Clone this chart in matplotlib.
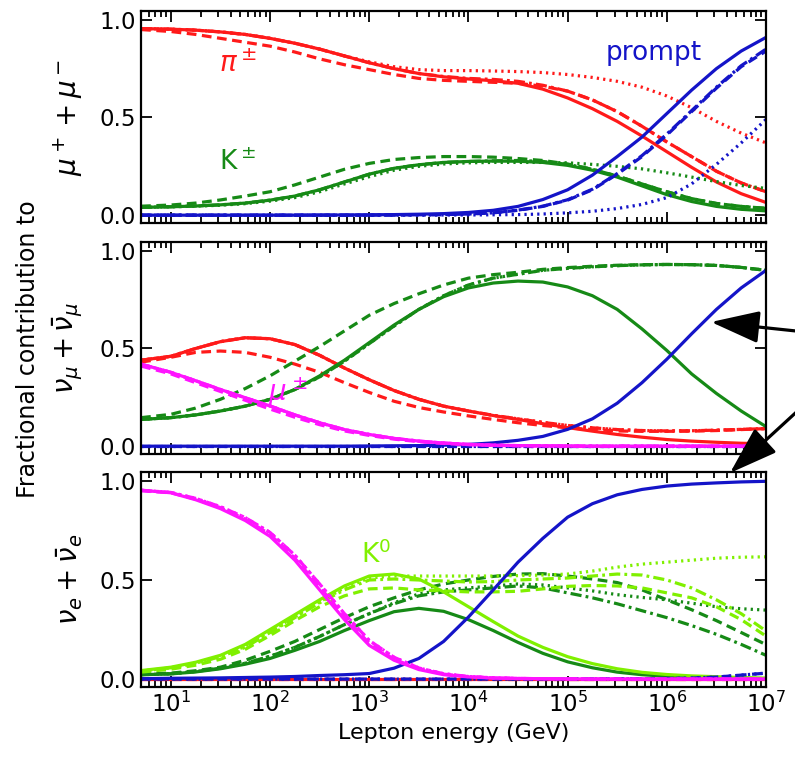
import numpy as np
import matplotlib
matplotlib.use('Agg')
import matplotlib.pyplot as plt
from matplotlib.ticker import LogLocator, NullFormatter, FixedLocator
from matplotlib.patches import FancyArrowPatch

# log10 of lepton energy in GeV
log_e = [0.7, 1.0, 1.25, 1.5, 1.75, 2.0, 2.25, 2.5, 2.75, 3.0, 3.25, 3.5, 3.75,
         4.0, 4.25, 4.5, 4.75, 5.0, 5.25, 5.5, 5.75, 6.0, 6.25, 6.5, 6.75, 7.0]
zeros = [0.0] * 26
xticks = [1e1, 1e2, 1e3, 1e4, 1e5, 1e6, 1e7]

# ---- mu+ + mu- ----
pi_mu_a = [0.955, 0.952, 0.947, 0.938, 0.925, 0.905, 0.88, 0.85, 0.815, 0.78, 0.75, 0.725, 0.708,
           0.697, 0.688, 0.675, 0.645, 0.60, 0.545, 0.48, 0.405, 0.325, 0.245, 0.17, 0.11, 0.065]
pi_mu_b = [0.95, 0.94, 0.925, 0.905, 0.885, 0.865, 0.835, 0.80, 0.77, 0.745, 0.72, 0.70, 0.69,
           0.685, 0.68, 0.675, 0.66, 0.635, 0.59, 0.53, 0.455, 0.375, 0.30, 0.225, 0.165, 0.12]
pi_mu_c = [0.955, 0.952, 0.947, 0.938, 0.925, 0.905, 0.88, 0.85, 0.815, 0.785, 0.76, 0.745, 0.74,
           0.74, 0.738, 0.735, 0.73, 0.72, 0.705, 0.685, 0.655, 0.61, 0.55, 0.48, 0.42, 0.37]
pi_mu_d = [0.955, 0.952, 0.947, 0.938, 0.925, 0.905, 0.88, 0.85, 0.815, 0.78, 0.75, 0.725, 0.71,
           0.70, 0.695, 0.685, 0.665, 0.635, 0.59, 0.53, 0.455, 0.375, 0.30, 0.225, 0.165, 0.12]

k_mu_a = [0.04, 0.043, 0.047, 0.053, 0.062, 0.077, 0.098, 0.13, 0.17, 0.21, 0.24, 0.258, 0.27,
          0.275, 0.277, 0.276, 0.27, 0.255, 0.23, 0.195, 0.15, 0.105, 0.07, 0.045, 0.03, 0.022]
k_mu_b = [0.046, 0.052, 0.062, 0.078, 0.098, 0.12, 0.155, 0.195, 0.235, 0.265, 0.285, 0.295, 0.30,
          0.30, 0.297, 0.29, 0.28, 0.262, 0.235, 0.2, 0.16, 0.12, 0.085, 0.06, 0.045, 0.035]
k_mu_c = [0.04, 0.043, 0.046, 0.051, 0.059, 0.072, 0.09, 0.12, 0.16, 0.197, 0.23, 0.25, 0.262,
          0.268, 0.27, 0.27, 0.27, 0.268, 0.26, 0.25, 0.237, 0.217, 0.195, 0.172, 0.152, 0.137]
k_mu_d = [0.04, 0.043, 0.047, 0.053, 0.062, 0.077, 0.098, 0.13, 0.17, 0.21, 0.24, 0.258, 0.27,
          0.275, 0.278, 0.28, 0.275, 0.26, 0.235, 0.2, 0.16, 0.12, 0.085, 0.06, 0.045, 0.035]

pr_mu_a = [0.0, 0.0, 0.0, 0.0, 0.0, 0.0, 0.0, 0.001, 0.001, 0.002, 0.003, 0.005, 0.008,
           0.014, 0.025, 0.045, 0.08, 0.13, 0.205, 0.30, 0.40, 0.52, 0.64, 0.75, 0.84, 0.91]
pr_mu_b = [0.0, 0.0, 0.0, 0.0, 0.0, 0.0, 0.0, 0.0, 0.0, 0.0, 0.001, 0.002, 0.003,
           0.006, 0.012, 0.025, 0.045, 0.077, 0.13, 0.21, 0.30, 0.41, 0.53, 0.65, 0.76, 0.84]
pr_mu_c = [0.0, 0.0, 0.0, 0.0, 0.0, 0.0, 0.0, 0.0, 0.0, 0.0, 0.0, 0.0, 0.001,
           0.001, 0.002, 0.003, 0.006, 0.012, 0.02, 0.034, 0.055, 0.09, 0.16, 0.26, 0.37, 0.49]
pr_mu_d = [0.0, 0.0, 0.0, 0.0, 0.0, 0.0, 0.0, 0.0, 0.0, 0.0, 0.001, 0.002, 0.003,
           0.006, 0.012, 0.026, 0.046, 0.079, 0.133, 0.213, 0.305, 0.415, 0.535, 0.655, 0.765, 0.85]

# ---- nu_mu + anti nu_mu ----
pi_numu_a = [0.44, 0.46, 0.50, 0.535, 0.555, 0.55, 0.52, 0.465, 0.40, 0.34, 0.285, 0.24, 0.205,
             0.18, 0.157, 0.137, 0.115, 0.095, 0.077, 0.06, 0.046, 0.034, 0.026, 0.02, 0.015, 0.012]
pi_numu_b = [0.43, 0.455, 0.48, 0.487, 0.48, 0.455, 0.42, 0.378, 0.325, 0.275, 0.23, 0.198, 0.175,
             0.155, 0.137, 0.12, 0.106, 0.094, 0.085, 0.078, 0.076, 0.076, 0.077, 0.08, 0.085, 0.09]
pi_numu_c = [0.44, 0.46, 0.50, 0.535, 0.555, 0.55, 0.52, 0.465, 0.40, 0.34, 0.285, 0.24, 0.205,
             0.18, 0.158, 0.14, 0.122, 0.106, 0.094, 0.085, 0.08, 0.078, 0.079, 0.082, 0.086, 0.09]

k_numu_a = [0.137, 0.146, 0.16, 0.18, 0.205, 0.24, 0.29, 0.36, 0.44, 0.53, 0.62, 0.70, 0.765,
            0.81, 0.835, 0.845, 0.84, 0.815, 0.77, 0.70, 0.60, 0.49, 0.37, 0.27, 0.18, 0.10]
k_numu_b = [0.146, 0.163, 0.195, 0.24, 0.295, 0.36, 0.435, 0.51, 0.59, 0.67, 0.73, 0.78, 0.825,
            0.86, 0.878, 0.89, 0.905, 0.914, 0.921, 0.926, 0.929, 0.93, 0.929, 0.925, 0.915, 0.90]
k_numu_c = [0.137, 0.146, 0.16, 0.18, 0.205, 0.24, 0.29, 0.355, 0.435, 0.525, 0.615, 0.70, 0.77,
            0.825, 0.86, 0.88, 0.90, 0.91, 0.918, 0.924, 0.928, 0.93, 0.929, 0.925, 0.915, 0.90]

mu_numu_a = [0.42, 0.378, 0.335, 0.29, 0.248, 0.206, 0.16, 0.12, 0.085, 0.06, 0.04, 0.026, 0.016,
             0.009, 0.005, 0.003, 0.002, 0.001, 0.0, 0.0, 0.0, 0.0, 0.0, 0.0, 0.0, 0.0]
mu_numu_b = [0.41, 0.37, 0.325, 0.28, 0.235, 0.19, 0.148, 0.11, 0.078, 0.055, 0.036, 0.023, 0.014,
             0.008, 0.004, 0.002, 0.001, 0.0, 0.0, 0.0, 0.0, 0.0, 0.0, 0.0, 0.0, 0.0]

pr_numu_a = [0.0, 0.0, 0.0, 0.0, 0.0, 0.0, 0.0, 0.0, 0.0, 0.001, 0.002, 0.003, 0.005,
             0.009, 0.017, 0.03, 0.05, 0.086, 0.14, 0.22, 0.325, 0.445, 0.575, 0.70, 0.81, 0.90]

# ---- nu_e + anti nu_e ----
mu_nue_a = [0.953, 0.94, 0.905, 0.86, 0.80, 0.72, 0.60, 0.45, 0.30, 0.17, 0.095, 0.048, 0.022,
            0.011, 0.005, 0.003, 0.002, 0.001, 0.0, 0.0, 0.0, 0.0, 0.0, 0.0, 0.0, 0.0]
mu_nue_b = [0.95, 0.94, 0.908, 0.865, 0.807, 0.73, 0.61, 0.465, 0.315, 0.18, 0.10, 0.052, 0.025,
            0.012, 0.006, 0.003, 0.002, 0.001, 0.0, 0.0, 0.0, 0.0, 0.0, 0.0, 0.0, 0.0]
mu_nue_c = [0.953, 0.942, 0.912, 0.87, 0.815, 0.74, 0.625, 0.48, 0.33, 0.195, 0.11, 0.056, 0.027,
            0.013, 0.006, 0.003, 0.002, 0.001, 0.0, 0.0, 0.0, 0.0, 0.0, 0.0, 0.0, 0.0]

k0_nue_a = [0.043, 0.06, 0.085, 0.12, 0.175, 0.25, 0.325, 0.40, 0.47, 0.52, 0.53, 0.505, 0.44,
            0.365, 0.29, 0.217, 0.16, 0.113, 0.078, 0.052, 0.034, 0.023, 0.016, 0.012, 0.008, 0.005]
k0_nue_b = [0.035, 0.05, 0.07, 0.10, 0.15, 0.22, 0.295, 0.365, 0.42, 0.455, 0.46, 0.45, 0.445,
            0.44, 0.44, 0.443, 0.455, 0.468, 0.472, 0.47, 0.46, 0.435, 0.41, 0.365, 0.30, 0.217]
k0_nue_c = [0.04, 0.057, 0.08, 0.115, 0.165, 0.24, 0.315, 0.39, 0.46, 0.51, 0.52, 0.52, 0.52,
            0.52, 0.52, 0.522, 0.525, 0.53, 0.545, 0.565, 0.58, 0.59, 0.60, 0.61, 0.615, 0.617]
k0_nue_d = [0.04, 0.057, 0.08, 0.113, 0.16, 0.235, 0.31, 0.385, 0.45, 0.50, 0.505, 0.50, 0.495,
            0.49, 0.492, 0.50, 0.505, 0.51, 0.52, 0.53, 0.525, 0.50, 0.46, 0.40, 0.33, 0.243]

k_nue_a = [0.022, 0.026, 0.036, 0.052, 0.075, 0.104, 0.145, 0.19, 0.245, 0.295, 0.34, 0.357, 0.342,
           0.30, 0.245, 0.185, 0.13, 0.087, 0.057, 0.035, 0.022, 0.014, 0.009, 0.005, 0.003, 0.002]
k_nue_b = [0.025, 0.03, 0.042, 0.06, 0.095, 0.14, 0.19, 0.25, 0.31, 0.365, 0.41, 0.45, 0.48,
           0.50, 0.518, 0.53, 0.532, 0.52, 0.505, 0.487, 0.45, 0.40, 0.35, 0.295, 0.235, 0.174]
k_nue_c = [0.022, 0.027, 0.038, 0.055, 0.08, 0.115, 0.16, 0.215, 0.275, 0.33, 0.385, 0.43, 0.45,
           0.46, 0.47, 0.48, 0.475, 0.46, 0.445, 0.426, 0.412, 0.40, 0.383, 0.365, 0.355, 0.348]
k_nue_d = [0.022, 0.027, 0.038, 0.055, 0.08, 0.115, 0.16, 0.215, 0.275, 0.33, 0.38, 0.42, 0.44,
           0.45, 0.46, 0.47, 0.46, 0.435, 0.41, 0.38, 0.345, 0.31, 0.27, 0.226, 0.175, 0.12]

pr_nue_a = [0.002, 0.004, 0.005, 0.006, 0.008, 0.01, 0.013, 0.018, 0.022, 0.028, 0.055, 0.104, 0.19,
            0.313, 0.45, 0.59, 0.71, 0.817, 0.885, 0.93, 0.957, 0.974, 0.984, 0.99, 0.995, 0.998]
pr_nue_b = [0.0, 0.0, 0.0, 0.0, 0.0, 0.0, 0.0, 0.0, 0.0, 0.0, 0.0, 0.0, 0.0,
            0.0, 0.0, 0.0, 0.0, 0.0, 0.001, 0.001, 0.002, 0.003, 0.005, 0.01, 0.02, 0.03]

RED, GREEN, BLUE, MAG, LGREEN = '#ff1a1a', '#168a16', '#1414c8', '#ff14ff', '#80f000'
STY = {'a': '-', 'b': (0, (7, 4)), 'c': (0, (1.6, 3.0)), 'd': (0, (8, 3, 2, 3))}

plt.rcParams['lines.scale_dashes'] = False
plt.rcParams['mathtext.fontset'] = 'dejavusans'

energy = 10 ** np.array(log_e)

fig = plt.figure(figsize=(7.95, 7.74), dpi=100)
L, R = 141 / 795, 766 / 795
boxes = [(11, 223), (242, 454), (472, 687)]
axes = []
for top, bot in boxes:
    axes.append(fig.add_axes([L, 1 - bot / 774, R - L, (bot - top) / 774]))

panels = [
    [(pi_mu_a, RED, 'a'), (pi_mu_b, RED, 'b'), (pi_mu_c, RED, 'c'), (pi_mu_d, RED, 'd'),
     (k_mu_a, GREEN, 'a'), (k_mu_b, GREEN, 'b'), (k_mu_c, GREEN, 'c'), (k_mu_d, GREEN, 'd'),
     (pr_mu_a, BLUE, 'a'), (pr_mu_b, BLUE, 'b'), (pr_mu_c, BLUE, 'c'), (pr_mu_d, BLUE, 'd')],
    [(pi_numu_a, RED, 'a'), (pi_numu_b, RED, 'b'), (pi_numu_c, RED, 'c'), (pi_numu_c, RED, 'd'),
     (k_numu_a, GREEN, 'a'), (k_numu_b, GREEN, 'b'), (k_numu_c, GREEN, 'c'), (k_numu_c, GREEN, 'd'),
     (zeros, BLUE, 'b'), (zeros, BLUE, 'c'), (pr_numu_a, BLUE, 'a'),
     (mu_numu_a, MAG, 'a'), (mu_numu_b, MAG, 'b'), (mu_numu_a, MAG, 'c'), (mu_numu_a, MAG, 'd')],
    [(zeros, RED, 'a'), (zeros, RED, 'b'),
     (k_nue_a, GREEN, 'a'), (k_nue_b, GREEN, 'b'), (k_nue_c, GREEN, 'c'), (k_nue_d, GREEN, 'd'),
     (k0_nue_a, LGREEN, 'a'), (k0_nue_b, LGREEN, 'b'), (k0_nue_c, LGREEN, 'c'), (k0_nue_d, LGREEN, 'd'),
     (pr_nue_b, BLUE, 'b'), (pr_nue_b, BLUE, 'c'), (pr_nue_a, BLUE, 'a'),
     (mu_nue_a, MAG, 'a'), (mu_nue_b, MAG, 'b'), (mu_nue_c, MAG, 'c'), (mu_nue_c, MAG, 'd')],
]
ylabels = [r'$\mu^+ + \mu^-$', r'$\nu_\mu + \bar{\nu}_\mu$', r'$\nu_e + \bar{\nu}_e$']

for ax, curves, yl in zip(axes, panels, ylabels):
    for vals, col, s in curves:
        ax.plot(energy, vals, color=col, ls=STY[s], lw=2.3)
    ax.set_xscale('log')
    ax.set_xlim(5, 1e7)
    ax.set_ylim(-0.04, 1.045)
    ax.set_yticks([0.0, 0.5, 1.0])
    ax.xaxis.set_major_locator(FixedLocator(xticks))
    ax.xaxis.set_minor_locator(LogLocator(base=10, subs=np.arange(2, 10), numticks=20))
    ax.xaxis.set_minor_formatter(NullFormatter())
    ax.tick_params(which='both', direction='in', top=True, right=True, labelsize=16.5, width=1.3)
    ax.tick_params(which='major', length=8)
    ax.tick_params(which='minor', length=4)
    for sp in ax.spines.values():
        sp.set_linewidth(1.6)
    ax.set_ylabel(yl, fontsize=20)
    ax.yaxis.set_label_coords(-0.09, 0.5)

axes[0].tick_params(labelbottom=False)
axes[1].tick_params(labelbottom=False)
axes[2].set_xlabel('Lepton energy (GeV)', fontsize=16)

axes[0].text(0.82, 0.80, 'prompt', color=BLUE, fontsize=19, ha='center', va='center', transform=axes[0].transAxes)
axes[0].text(0.155, 0.75, r'$\pi^\pm$', color=RED, fontsize=20, ha='center', va='center', transform=axes[0].transAxes)
axes[0].text(0.155, 0.285, r'K$^\pm$', color=GREEN, fontsize=19, ha='center', va='center', transform=axes[0].transAxes)
axes[1].text(0.235, 0.29, r'$\mu^\pm$', color=MAG, fontsize=20, ha='center', va='center', transform=axes[1].transAxes)
axes[2].text(0.376, 0.613, r'K$^0$', color=LGREEN, fontsize=19, ha='center', va='center', transform=axes[2].transAxes)

fig.text(28 / 795, 1 - 349 / 774, 'Fractional contribution to', rotation=90, fontsize=17,
         ha='center', va='center')

# arrows coming in from the right edge
for head, tail in [((711, 322), (815, 333)), ((730, 473), (815, 395))]:
    arr = FancyArrowPatch((tail[0] / 795, 1 - tail[1] / 774), (head[0] / 795, 1 - head[1] / 774),
                          transform=fig.transFigure, arrowstyle='-|>,head_length=1.5,head_width=0.5',
                          mutation_scale=20, lw=2.3, color='black', shrinkA=0, shrinkB=0)
    fig.add_artist(arr)

fig.savefig('out.png', dpi=100)
